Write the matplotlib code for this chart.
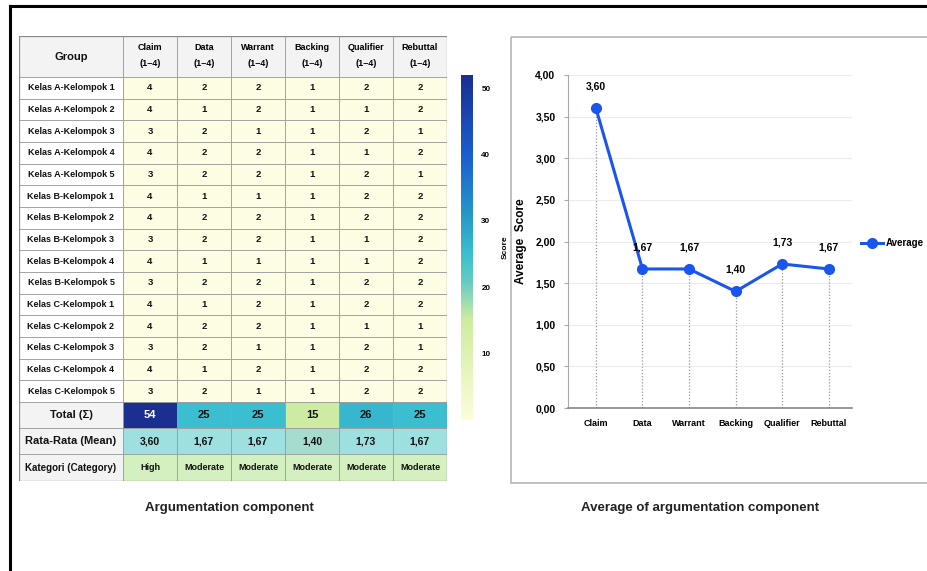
import matplotlib
matplotlib.use("Agg")
import matplotlib.pyplot as plt
from matplotlib.patches import Rectangle
from matplotlib.colors import Normalize, LinearSegmentedColormap
import numpy as np

groups = ["Kelas A-Kelompok 1", "Kelas A-Kelompok 2", "Kelas A-Kelompok 3",
          "Kelas A-Kelompok 4", "Kelas A-Kelompok 5", "Kelas B-Kelompok 1",
          "Kelas B-Kelompok 2", "Kelas B-Kelompok 3", "Kelas B-Kelompok 4",
          "Kelas B-Kelompok 5", "Kelas C-Kelompok 1", "Kelas C-Kelompok 2",
          "Kelas C-Kelompok 3", "Kelas C-Kelompok 4", "Kelas C-Kelompok 5"]
components = ["Claim", "Data", "Warrant", "Backing", "Qualifier", "Rebuttal"]
scores = [[4, 2, 2, 1, 2, 2],
          [4, 1, 2, 1, 1, 2],
          [3, 2, 1, 1, 2, 1],
          [4, 2, 2, 1, 1, 2],
          [3, 2, 2, 1, 2, 1],
          [4, 1, 1, 1, 2, 2],
          [4, 2, 2, 1, 2, 2],
          [3, 2, 2, 1, 1, 2],
          [4, 1, 1, 1, 1, 2],
          [3, 2, 2, 1, 2, 2],
          [4, 1, 2, 1, 2, 2],
          [4, 2, 2, 1, 1, 1],
          [3, 2, 1, 1, 2, 1],
          [4, 1, 2, 1, 2, 2],
          [3, 2, 1, 1, 2, 2]]
totals = [54, 25, 25, 15, 26, 25]
means = [3.60, 1.67, 1.67, 1.40, 1.73, 1.67]
categories = ["High", "Moderate", "Moderate", "Moderate", "Moderate", "Moderate"]
cbar_ticks = [10, 20, 30, 40, 50]

plt.rcParams["font.family"] = ["Liberation Sans", "DejaVu Sans"]


def comma(v):
    return f"{v:.2f}".replace(".", ",")


W, H = 928, 571
fig = plt.figure(figsize=(W / 100, H / 100), dpi=100)


def fig_rect(x0, y0, x1, y1):
    # pixel box (top-left origin) -> figure fraction
    return [x0 / W, 1 - y1 / H, (x1 - x0) / W, (y1 - y0) / H]


# background frame (screenshot border and right panel box)
bg = fig.add_axes([0, 0, 1, 1])
bg.set_xlim(0, W)
bg.set_ylim(H, 0)
bg.axis("off")
bg.plot([10, W], [6, 6], color="black", lw=2.2)
bg.plot([10, 10], [6, H], color="black", lw=2.2)
bg.add_patch(Rectangle((511, 37), 430, 446, fill=False, ec="#b5b5b5", lw=1.2))

# ---------------- table ----------------
# yellow -> green -> cyan -> blue -> navy, close to the reference scale
cmap = LinearSegmentedColormap.from_list("score", [
    (0.0, "#fcfdd9"), (0.29, "#cdeca0"), (0.40, "#66cbc0"), (0.48, "#3bbfcf"),
    (0.60, "#2596c8"), (0.77, "#1b5cd0"), (1.0, "#1a2f8f")])
norm = Normalize(vmin=0, vmax=52)

col_w = [104] + [54] * len(components)
row_h = [41] + [21.67] * len(groups) + [26, 26, 27]
xe = np.concatenate([[0], np.cumsum(col_w)])
ye = np.concatenate([[0], np.cumsum(row_h)])

ax_t = fig.add_axes(fig_rect(19, 36, 19 + xe[-1], 36 + ye[-1]))
ax_t.set_xlim(0, xe[-1])
ax_t.set_ylim(ye[-1], 0)
ax_t.axis("off")

grid_c = "#9c9c9c"


def cell(r, c, fc, txt, size=6.5, color="#111111", weight="bold"):
    x0, x1 = xe[c], xe[c + 1]
    y0, y1 = ye[r], ye[r + 1]
    ax_t.add_patch(Rectangle((x0, y0), x1 - x0, y1 - y0, fc=fc, ec=grid_c, lw=0.6))
    ax_t.text((x0 + x1) / 2, (y0 + y1) / 2, txt, ha="center", va="center",
              fontsize=size, color=color, fontweight=weight)


# header
cell(0, 0, "#f3f3f3", "Group", size=8)
for j, comp in enumerate(components):
    x0, x1 = xe[j + 1], xe[j + 2]
    ax_t.add_patch(Rectangle((x0, 0), x1 - x0, ye[1], fc="#f3f3f3", ec=grid_c, lw=0.6))
    ax_t.text((x0 + x1) / 2, 11, comp, ha="center", va="center", fontsize=6.5, fontweight="bold")
    ax_t.text((x0 + x1) / 2, 28, "(1\u20134)", ha="center", va="center", fontsize=6.5, fontweight="bold")

# body
for i, g in enumerate(groups):
    cell(i + 1, 0, "white", g, size=6.5)
    for j, v in enumerate(scores[i]):
        cell(i + 1, j + 1, "#fdfde4", str(v), size=6.8)

r_tot = len(groups) + 1
cell(r_tot, 0, "#f3f3f3", "Total (\u03a3)", size=8)
for j, v in enumerate(totals):
    tc = "white" if v > 40 else "#111111"
    cell(r_tot, j + 1, cmap(norm(v)), str(v), size=8, color=tc)

cell(r_tot + 1, 0, "#f3f3f3", "Rata-Rata (Mean)", size=8)
for j, v in enumerate(means):
    fc = "#a6dccf" if v < 1.5 else "#9edfdf"
    cell(r_tot + 1, j + 1, fc, comma(v), size=7.5)

cell(r_tot + 2, 0, "#f3f3f3", "Kategori (Category)", size=7)
for j, k in enumerate(categories):
    cell(r_tot + 2, j + 1, "#d4efc0", k, size=6.5)

ax_t.add_patch(Rectangle((0, 0), xe[-1], ye[-1], fill=False, ec="#8a8a8a", lw=0.9))

# colorbar
cax = fig.add_axes(fig_rect(461, 75, 473, 420))
sm = plt.cm.ScalarMappable(norm=norm, cmap=cmap)
cb = fig.colorbar(sm, cax=cax, ticks=cbar_ticks)
cb.outline.set_visible(False)
cb.ax.tick_params(length=0, labelsize=5.8, pad=6)
for t in cb.ax.get_yticklabels():
    t.set_fontweight("bold")
cb.set_label("Score", fontsize=6, fontweight="bold", labelpad=8)

fig.text(229 / W, 1 - 508 / H, "Argumentation component", ha="center", va="center",
         fontsize=9.5, fontweight="bold", color="#222222")

# ---------------- line chart ----------------
ax_c = fig.add_axes(fig_rect(568, 75, 852, 408))
x = np.arange(len(components))
ax_c.set_xlim(-0.6, 5.5)
ax_c.set_ylim(0, 4)
ax_c.set_yticks(np.arange(0, 4.01, 0.5))
ax_c.set_yticklabels([comma(v) for v in np.arange(0, 4.01, 0.5)])
ax_c.yaxis.grid(True, color="#ececec", lw=0.8)
ax_c.set_axisbelow(True)
ax_c.vlines(x, 0, means, colors="#9a9a9a", linestyles=(0, (1, 1.5)), lw=0.9)
ax_c.plot(x, means, color="#1a55ee", lw=2.2, marker="o", ms=7, label="Average")
for xi, v in zip(x, means):
    ax_c.annotate(comma(v), (xi, v), xytext=(0, 15.5), textcoords="offset points",
                  ha="center", va="center", fontsize=7.5, fontweight="bold")
ax_c.set_xticks(x)
ax_c.set_xticklabels(components)
for s in ["top", "right"]:
    ax_c.spines[s].set_visible(False)
ax_c.spines["left"].set_color("#aaaaaa")
ax_c.spines["bottom"].set_color("#888888")
ax_c.spines["bottom"].set_linewidth(1.2)
ax_c.tick_params(axis="x", length=0, pad=8)
ax_c.tick_params(axis="y", length=3, color="#aaaaaa", pad=6)
for t in ax_c.get_xticklabels():
    t.set_fontsize(6.5)
    t.set_fontweight("bold")
for t in ax_c.get_yticklabels():
    t.set_fontsize(7.5)
    t.set_fontweight("bold")
ax_c.set_ylabel("Average  Score", fontsize=8.5, fontweight="bold", labelpad=6)
ax_c.legend(loc="center left", bbox_to_anchor=(861 / W, 1 - 243 / H),
            bbox_transform=fig.transFigure, frameon=False,
            prop={"size": 7, "weight": "bold"},
            handlelength=2.3, handletextpad=0.2, borderpad=0, borderaxespad=0)

fig.text(700 / W, 1 - 508 / H, "Average of argumentation component", ha="center", va="center",
         fontsize=9.5, fontweight="bold", color="#222222")

fig.savefig("out.png", dpi=100, facecolor="white")
